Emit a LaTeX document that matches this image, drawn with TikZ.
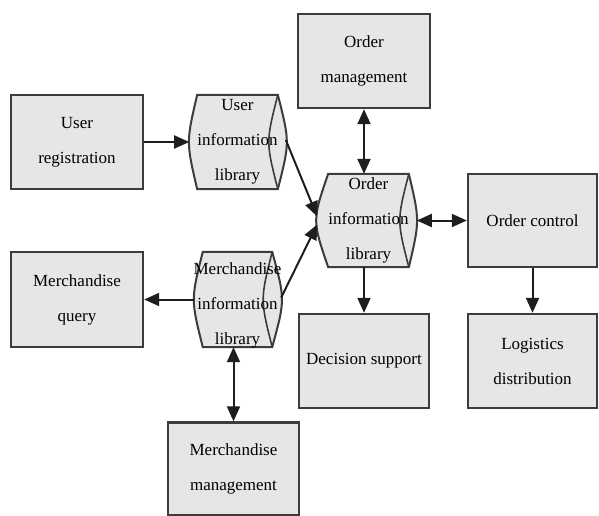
\documentclass[tikz,border=0pt]{standalone}
\usepackage{fontspec}
\setmainfont{Liberation Serif}
\newfontfamily\diagfont{Liberation Serif}
\usetikzlibrary{arrows.meta,calc,backgrounds}
\definecolor{boxfill}{HTML}{E6E6E6}
\definecolor{boxline}{HTML}{3C3C3C}
\definecolor{arrowline}{HTML}{1E1E1E}
\tikzset{
  box/.style={draw=boxline, fill=boxfill, line width=2.4pt, rectangle, inner sep=0pt,
    align=center, font=\diagfont\fontsize{17}{35}\selectfont},
  cylbody/.style={rectangle, inner sep=0pt, align=center, font=\diagfont\fontsize{17}{35}\selectfont},
  cylline/.style={draw=boxline, fill=boxfill, line width=2pt, line join=miter},
  cylinner/.style={draw=boxline, line width=1.6pt},
  tip/.style={Triangle[length=15pt,width=13pt]},
  conn/.style={draw=arrowline, line width=2pt, -{Triangle[length=15pt,width=13pt]}},
  dconn/.style={draw=arrowline, line width=2pt, {Triangle[length=15pt,width=13pt]}-{Triangle[length=15pt,width=13pt]}}
}
\begin{document}
\begin{tikzpicture}[x=1pt,y=-1pt]
\useasboundingbox (0,0) rectangle (599,516);
% boxes
\node[box, minimum width=132pt, minimum height=94pt] (ureg) at (77,142) {User\\registration};
\node[box, minimum width=132pt, minimum height=94pt] (omgmt) at (364,61) {Order\\management};
\node[box, minimum width=129pt, minimum height=93pt] (octrl) at (532.5,220.5) {Order control};
\node[box, minimum width=129pt, minimum height=94pt] (logis) at (532.5,361) {Logistics\\distribution};
\node[box, minimum width=130pt, minimum height=94pt] (dec) at (364,361) {Decision support};
\node[box, minimum width=132pt, minimum height=95pt] (mquery) at (77,299.5) {Merchandise\\query};
\node[box, minimum width=131pt, minimum height=93pt] (mmgmt) at (233.5,469) {Merchandise\\management};
% cylinders
\node[cylbody, minimum width=69pt, minimum height=94pt] (ulib) at (237.5,142) {User\\information\\library};
\node[cylbody, minimum width=67pt, minimum height=93pt] (olib) at (368.5,220.5) {Order\\information\\library};
\node[cylbody, minimum width=69pt, minimum height=95pt] (mlib) at (237.5,299.5) {};
\node[cylbody] (mlibtext) at (237.5,305) {Merchandise\\information\\library};
\begin{scope}[on background layer]
  \path[cylline] (ulib.north west) -- (ulib.north east) .. controls ($(ulib.east)+(12,0)$) .. (ulib.south east)
     -- (ulib.south west) .. controls ($(ulib.west)+(-11,0)$) .. cycle;
  \draw[cylinner] (ulib.north east) .. controls ($(ulib.east)+(-12,0)$) .. (ulib.south east);
  \path[cylline] (olib.north west) -- (olib.north east) .. controls ($(olib.east)+(11,0)$) .. (olib.south east)
     -- (olib.south west) .. controls ($(olib.west)+(-16,0)$) .. cycle;
  \draw[cylinner] (olib.north east) .. controls ($(olib.east)+(-12,0)$) .. (olib.south east);
  \path[cylline] (mlib.north west) -- (mlib.north east) .. controls ($(mlib.east)+(13,0)$) .. (mlib.south east)
     -- (mlib.south west) .. controls ($(mlib.west)+(-12,0)$) .. cycle;
  \draw[cylinner] (mlib.north east) .. controls ($(mlib.east)+(-12,0)$) .. (mlib.south east);
\end{scope}
% bulge coordinates
\coordinate (ulibL) at ($(ulib.west)+(-8,0)$);
\coordinate (ulibR) at ($(ulib.east)+(8,-2)$);
\coordinate (olibL1) at ($(olib.west)+(-11,-4)$);
\coordinate (olibL2) at ($(olib.west)+(-11,4)$);
\coordinate (olibR) at ($(olib.east)+(8,0)$);
\coordinate (mlibL) at ($(mlib.west)+(-9,0)$);
\coordinate (mlibR) at ($(mlib.east)+(9,-2)$);
% connectors
\draw[conn] (ureg.east) -- (ulibL);
\draw[conn] (ulibR) -- (olibL1);
\draw[conn] (mlibR) -- (olibL2);
\draw[conn] (mlibL) -- (mquery.east);
\draw[dconn] (mlib.south -| mmgmt.north) -- (mmgmt.north);
\draw[dconn] (omgmt.south) -- (olib.north -| omgmt.south);
\draw[conn] (olib.south -| dec.north) -- (dec.north);
\draw[dconn] (olibR) -- (octrl.west);
\draw[conn] (octrl.south) -- (logis.north);
\end{tikzpicture}
\end{document}
